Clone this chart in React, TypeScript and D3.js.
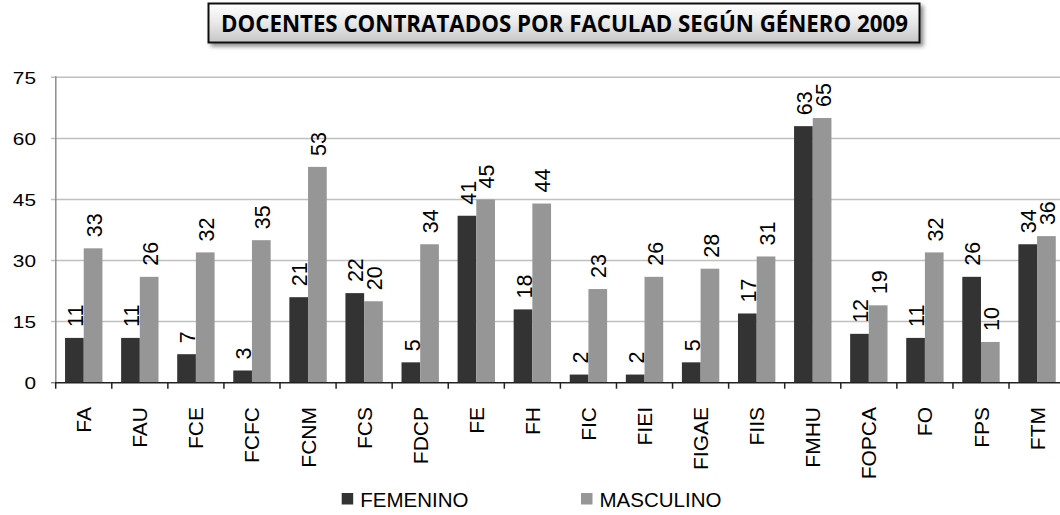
import React from 'react';
import * as d3 from 'd3';

const categories = ['FA','FAU','FCE','FCFC','FCNM','FCS','FDCP','FE','FH','FIC','FIEI','FIGAE','FIIS','FMHU','FOPCA','FO','FPS','FTM'];
const femenino = [11,11,7,3,21,22,5,41,18,2,2,5,17,63,12,11,26,34];
const masculino = [33,26,32,35,53,20,34,45,44,23,26,28,31,65,19,32,10,36];
const yTicks = [0,15,30,45,60,75];
const seriesNames = ['FEMENINO','MASCULINO'];
const seriesColors = ['#333333','#969696'];
const title = 'DOCENTES CONTRATADOS POR FACULAD SEGÚN GÉNERO 2009';

const W = 1060, H = 515;
const FONT = 'Liberation Sans, Arimo, Arial, sans-serif';

export default function App() {
  const x = d3.scaleBand<string>().domain(categories).range([55.7, 1065.1]).padding(0);
  const y = d3.scaleLinear().domain([0, 75]).range([382.7, 77.3]);
  const bw = x.bandwidth();
  const barW = bw / 3;
  const off = bw / 6;
  const series = [femenino, masculino];
  const labelF = 21.5;
  const tickF = 16;
  const catF = 21;

  return (
    <svg width={W} height={H} style={{ position: 'absolute', left: 0, top: 0, background: '#fff', fontFamily: FONT }}>
      <defs>
        <linearGradient id="tg" x1="0" y1="0" x2="0" y2="1">
          <stop offset="0" stopColor="#ffffff" />
          <stop offset="0.5" stopColor="#e8e8e8" />
          <stop offset="1" stopColor="#c6c6c6" />
        </linearGradient>
        <filter id="sh" x="-5%" y="-30%" width="110%" height="170%">
          <feDropShadow dx="3" dy="3" stdDeviation="2" floodColor="#000" floodOpacity="0.45" />
        </filter>
      </defs>
      <rect width={W} height={H} fill="#fff" />
      {/* title */}
      <rect x={208.5} y={3.5} width={711} height={39} fill="url(#tg)" stroke="#111" strokeWidth={2} filter="url(#sh)" />
      <text x={564.5} y={32} textAnchor="middle" style={{ fontFamily: '"Open Sans", "DejaVu Sans", sans-serif' }} fontWeight="bold" fontSize={23} textLength={687} lengthAdjust="spacingAndGlyphs" fill="#000">{title}</text>

      {/* gridlines */}
      {yTicks.filter(t => t > 0).map(t => (
        <line key={'g' + t} x1={51} x2={1060} y1={y(t)} y2={y(t)} stroke="#c0c0c0" strokeWidth={1.5} />
      ))}
      {/* y axis */}
      <line x1={55.8} x2={55.8} y1={y(75) - 1} y2={y(0)} stroke="#8c8c8c" strokeWidth={1.5} />
      <line x1={51} x2={56} y1={y(0)} y2={y(0)} stroke="#8c8c8c" strokeWidth={1.5} />
      {yTicks.map(t => (
        <text key={'yt' + t} transform={`translate(36,${y(t) + 6.7}) scale(1.3,1)`} textAnchor="end" fontSize={tickF} fill="#000">{t}</text>
      ))}

      {/* bars */}
      {series.map((vals, si) => vals.map((v, i) => {
        const bx = (x(categories[i]) as number) + off + si * barW;
        return <rect key={`b${si}-${i}`} x={bx} y={y(v)} width={barW} height={y(0) - y(v)} fill={seriesColors[si]} />;
      }))}

      {/* data labels */}
      {series.map((vals, si) => vals.map((v, i) => {
        const cx = (x(categories[i]) as number) + off + si * barW + barW / 2 + 1;
        return (
          <text key={`l${si}-${i}`} transform={`translate(${cx + 0.358 * labelF},${y(v) - 11}) rotate(-90)`} textAnchor="start" fontSize={labelF} fill="#000">{v}</text>
        );
      }))}

      {/* x axis */}
      <line x1={55} x2={1060} y1={y(0)} y2={y(0)} stroke="#222" strokeWidth={1.5} />
      {categories.map(c => x(c) as number).map((tx, i) => (
        <line key={'xt' + i} x1={tx} x2={tx} y1={y(0)} y2={y(0) + 6} stroke="#222" strokeWidth={1.5} />
      ))}
      {categories.map(c => {
        const cx = (x(c) as number) + bw / 2;
        return (
          <text key={'c' + c} transform={`translate(${cx + 0.358 * catF},407) rotate(-90)`} textAnchor="end" fontSize={catF} fill="#000">{c}</text>
        );
      })}

      {/* legend */}
      {seriesNames.map((n, i) => {
        const lx = [341.7, 581][i];
        return (
          <g key={'lg' + n}>
            <rect x={lx} y={493} width={11.5} height={11.5} fill={seriesColors[i]} />
            <text x={lx + 18.5} y={507.3} fontSize={20.5} fill="#000">{n}</text>
          </g>
        );
      })}
    </svg>
  );
}
